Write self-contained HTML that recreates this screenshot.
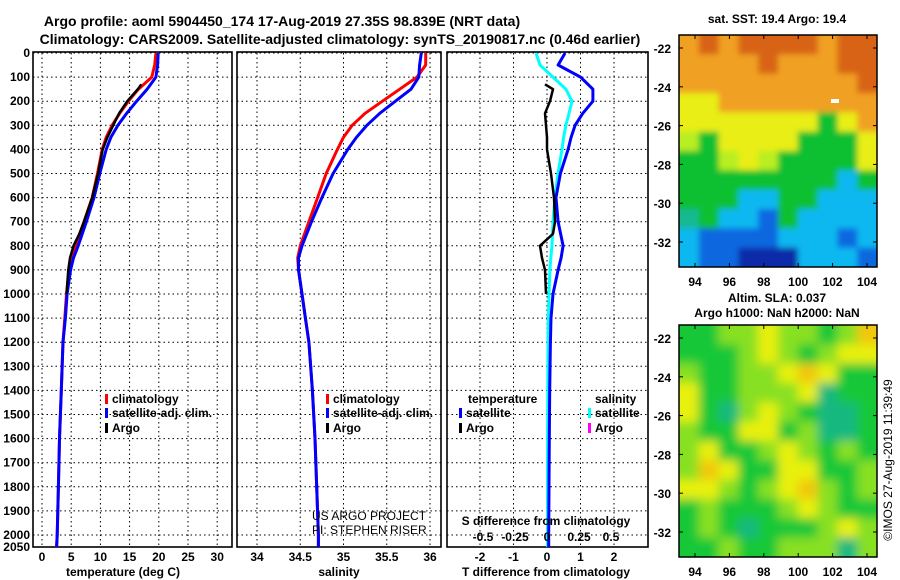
<!DOCTYPE html>
<html><head><meta charset="utf-8"><style>
body{margin:0;background:#fff;}
svg{display:block;font-family:"Liberation Sans",sans-serif;}
</style></head><body>
<svg id="c" width="900" height="580" viewBox="0 0 900 580" xmlns="http://www.w3.org/2000/svg">
<text x="282" y="26" font-size="14" font-weight="bold" text-anchor="middle">Argo profile: aoml 5904450_174 17-Aug-2019 27.35S 98.839E (NRT data)</text>
<text x="340" y="44" font-size="14" font-weight="bold" text-anchor="middle">Climatology: CARS2009. Satellite-adjusted climatology: synTS_20190817.nc (0.46d earlier)</text>
<g id="g"></g>
</svg>
<script>
// ---- data ----
const depths=[0,50,100,150,200,250,300,350,400,500,600,700,800,850,900,1000,1100,1200,1400,1600,1800,2000,2050];
const tempClim=[19.5,19.3,18.8,16.5,14.8,13.3,12,11,10.3,9.5,8.6,7.2,5.7,5.2,4.7,4.2,3.9,3.6,3.3,3.0,2.8,2.6,2.5];
const tempSat=[19.9,19.8,19.5,18,16.2,14.5,13,11.8,11,9.9,8.9,7.6,6.2,5.4,4.9,4.3,4.0,3.6,3.3,3.0,2.8,2.6,2.5];
const argoDepths=[130,150,200,250,300,350,400,500,600,700,750,800,850,900,1000];
const tempArgo=[17,16.4,14.6,13.2,12.2,11.2,10.4,9.6,8.6,7.2,6.4,5.4,4.8,4.5,4.2];
const salClim=[35.95,35.95,35.85,35.65,35.45,35.25,35.1,35.0,34.93,34.8,34.7,34.6,34.5,34.47,34.48,34.52,34.56,34.6,34.64,34.67,34.69,34.71,34.71];
const salSat=[35.9,35.88,35.87,35.78,35.6,35.42,35.27,35.15,35.05,34.88,34.75,34.63,34.52,34.48,34.48,34.52,34.56,34.6,34.64,34.67,34.69,34.71,34.71];
const tDiffSat=[0.54,0.33,1.0,1.37,1.37,1.07,0.84,0.72,0.63,0.4,0.27,0.33,0.48,0.42,0.33,0.18,0.12,0.1,0.08,0.07,0.06,0.05,0.05];
const sDiffSat=[-0.086,-0.055,0.047,0.148,0.195,0.172,0.148,0.13,0.117,0.086,0.062,0.047,0.039,0.03,0.023,0.016,0.01,0.008,0.006,0.005,0.004,0.004,0.004];
const tDiffArgo=[-0.06,0.18,0.09,-0.06,-0.03,0,0,0.12,0.21,0.24,0.18,-0.21,-0.15,-0.06,-0.03];
const yTicks=[0,100,200,300,400,500,600,700,800,900,1000,1100,1200,1300,1400,1500,1600,1700,1800,1900,2000];
const tTicks=[0,5,10,15,20,25,30];
const sTicks=[34,34.5,35,35.5,36];
const dTicks=[-2,-1,0,1,2];
const sdTicks=[-0.5,-0.25,0,0.25,0.5];
const latTicks=[-22,-24,-26,-28,-30,-32];
const lonTicks=[94,96,98,100,102,104];
const sstGrid=["oOoOOOOoOO","ooooOoooOO","oooooooooO","YYoooooooo","YYYYYYYGYo","LGYYYYGGGY","GGLYLGGGGY","GGGGGGGGCG","GGGCCGGCCC","TGCCBGCCCC","CBBBBCCCBC","CBBDDDCCCB"];
const slaGrid=["ggllyllglY","ggglylgly".padEnd(10,'y'),"lggllyYygg","ygglllytgg","ygtlylgttg","lggyyglttg","lygglylglg","lYyggyyggl","yylglyYlgl","glggglylgg","glgtggglyl","gglggllltl"];
// ---- helpers ----
const NS="http://www.w3.org/2000/svg",G=document.getElementById('g');
function el(t,a,p){const e=document.createElementNS(NS,t);for(const k in a)e.setAttribute(k,a[k]);(p||G).appendChild(e);return e;}
const yTop=53,yPer=24.1;
const yD=d=>yTop+d*yPer/100;
function panel(name,x0,x1,xs,ticks,fmt,gridTicks){
  const f=el('rect',{x:x0,y:yTop-1,width:x1-x0,height:495,fill:'none',stroke:'#000','stroke-width':1.6});
  
  yTicks.forEach(d=>{const y=yD(d);
    const l=el('line',{x1:x0,x2:x1,y1:y,y2:y,stroke:'#000','stroke-width':1,'stroke-dasharray':'1.5,3'});
    });
  gridTicks.forEach(v=>{const x=xs(v);
    const l=el('line',{x1:x,x2:x,y1:yTop,y2:546,stroke:'#000','stroke-width':1,'stroke-dasharray':'1.5,3'});
    });
  ticks.forEach(v=>{const t=el('text',{x:xs(v),y:561,'font-size':12,'font-weight':'bold','text-anchor':'middle'});t.textContent=fmt(v);
    });
}
function line(name,xs,xv,dv,color,w){
  const pts=xv.map((v,i)=>xs(v).toFixed(1)+','+yD(dv[i]).toFixed(1)).join(' ');
  const p=el('polyline',{points:pts,fill:'none',stroke:color,'stroke-width':w||3,'stroke-linejoin':'round'});
  
}
function txt(s,x,y,o,name){const t=el('text',Object.assign({x:x,y:y,'font-size':12,'font-weight':'bold'},o||{}));t.textContent=s;
  return t;}
function legend(x,y,color,label,name){
  const r=el('rect',{x:x,y:y-9,width:3,height:10,fill:color});
  txt(label,x+7,y,{},name);
}
yTicks.forEach(d=>txt(String(d),30,yD(d)+4,{'text-anchor':'end'},'y-tick-label'));
txt('2050',30,yD(2050)+4,{'text-anchor':'end'},'y-tick-label');
// panel 1
const xT=v=>42+v*5.84;
panel('temperature-panel',33,232,xT,tTicks,v=>String(v),tTicks);
line('temperature-climatology-line',xT,tempClim,depths,'#ff0000');
line('temperature-satellite-adj-line',xT,tempSat,depths,'#0000ff');
line('temperature-argo-line',xT,tempArgo,argoDepths,'#000',2.5);
txt('temperature (deg C)',123,576,{'text-anchor':'middle'},'temperature-x-axis-title');
legend(105,403,'#ff0000','climatology','legend-climatology');
legend(105,417,'#0000ff','satellite-adj. clim.','legend-satellite-adj');
legend(105,432,'#000','Argo','legend-argo');
// panel 2
const xS=v=>257+(v-34)*86.5;
panel('salinity-panel',237,441,xS,sTicks,v=>String(v),sTicks);
line('salinity-climatology-line',xS,salClim,depths,'#ff0000');
line('salinity-satellite-adj-line',xS,salSat,depths,'#0000ff');
txt('salinity',339,576,{'text-anchor':'middle'},'salinity-x-axis-title');
legend(326,403,'#ff0000','climatology','legend-sal-climatology');
legend(326,417,'#0000ff','satellite-adj. clim.','legend-sal-satellite-adj');
legend(326,432,'#000','Argo','legend-sal-argo');
txt('US ARGO PROJECT',312,520,{'font-weight':'normal'},'project-credit');
txt('PI: STEPHEN RISER',312,534,{'font-weight':'normal'},'pi-credit');
// panel 3
const xD=v=>547+v*33.5, xSD=v=>547+v*128;
panel('difference-panel',447,648,xD,dTicks,v=>String(v),dTicks);
line('salinity-diff-satellite-line',xSD,sDiffSat,depths,'#00ffff');
line('temperature-diff-satellite-line',xD,tDiffSat,depths,'#0000ff');
line('temperature-diff-argo-line',xD,tDiffArgo,argoDepths,'#000',2.5);
sdTicks.forEach(v=>txt(String(v),xSD(v),541,{'text-anchor':'middle'},'s-diff-tick-label'));
txt('S difference from climatology',546,525,{'text-anchor':'middle'},'s-diff-axis-title');
txt('T difference from climatology',546,576,{'text-anchor':'middle'},'t-diff-axis-title');
txt('temperature',468,403,{},'legend-temperature-heading');
legend(459,417,'#0000ff','satellite','legend-t-satellite');
legend(459,432,'#000','Argo','legend-t-argo');
txt('salinity',595,403,{},'legend-salinity-heading');
legend(588,417,'#00ffff','satellite','legend-s-satellite');
legend(588,432,'#ff00ff','Argo','legend-s-argo');
// maps
const pal={O:'#d86412',o:'#f0a020',Y:'#e8ee18',L:'#b8ee20',G:'#10c030',T:'#14b890',C:'#10b8f0',B:'#1068e0',D:'#0a2aa8',
 g:'#18c838',l:'#88e020',y:'#e8f010',t:'#18b880'};
const defs=el('defs',{});
const flt=el('filter',{id:'bl',x:'-5%',y:'-5%',width:'110%',height:'110%'},defs);
el('feGaussianBlur',{stdDeviation:5},flt);
const flt2=el('filter',{id:'bl2',x:'-5%',y:'-5%',width:'110%',height:'110%'},defs);
el('feGaussianBlur',{stdDeviation:3},flt2);
function map(name,x0,y0,w,h,grid,lat0,latPer,blurId,sla){
  const cw=w/10,ch=h/12;
  const cp=el('clipPath',{id:name+'-clip'},defs);el('rect',{x:x0,y:y0,width:w,height:h},cp);
  const outer=el('g',{'clip-path':'url(#'+name+'-clip)'});
  const grp=el('g',{filter:'url(#'+blurId+')'},outer);
  grid.forEach((row,r)=>[...row].forEach((c,k)=>{
    const col=c==='Y'&&sla?'#f0c808':pal[c];
    const re=el('rect',{x:x0+k*cw-(k==0?10:0),y:y0+r*ch-(r==0?10:0),width:cw+0.6+(k==0||k==9?10:0),height:ch+0.6+(r==0||r==11?10:0),fill:col},grp);
    }));
  const f=el('rect',{x:x0,y:y0,width:w,height:h,fill:'none',stroke:'#000','stroke-width':1.5});
  
  latTicks.forEach(v=>{const y=lat0+(-22-v)*latPer;
    el('line',{x1:x0,x2:x0+4,y1:y,y2:y,stroke:'#000'});el('line',{x1:x0+w-4,x2:x0+w,y1:y,y2:y,stroke:'#000'});
    txt(String(v),x0-8,y+5,{'text-anchor':'end'},name+'-lat-label');});
  lonTicks.forEach(v=>{const x=695+(v-94)*17.2;
    el('line',{x1:x,x2:x,y1:y0+h-4,y2:y0+h,stroke:'#000'});el('line',{x1:x,x2:x,y1:y0,y2:y0+4,stroke:'#000'});
    txt(String(v),x,y0+h+19,{'text-anchor':'middle'},name+'-lon-label');});
}
map('sst-map',679,35,198,232,sstGrid,48,19.4,'bl2',false);
const mk=el('rect',{x:831,y:99,width:8,height:4,fill:'#fff'});
map('sla-map',679,325,198,232,slaGrid,338,19.4,'bl',true);
txt('sat. SST: 19.4 Argo: 19.4',777,23,{'text-anchor':'middle'},'sst-map-title');
txt('Altim. SLA: 0.037',777,302,{'text-anchor':'middle'},'sla-map-title');
txt('Argo h1000: NaN h2000: NaN',777,317,{'text-anchor':'middle'},'sla-map-subtitle');
txt('\u00a9IMOS 27-Aug-2019 11:39:49',0,0,{'font-weight':'normal','text-anchor':'middle',transform:'translate(892,460) rotate(-90)'},'timestamp');
</script>
</body></html>
